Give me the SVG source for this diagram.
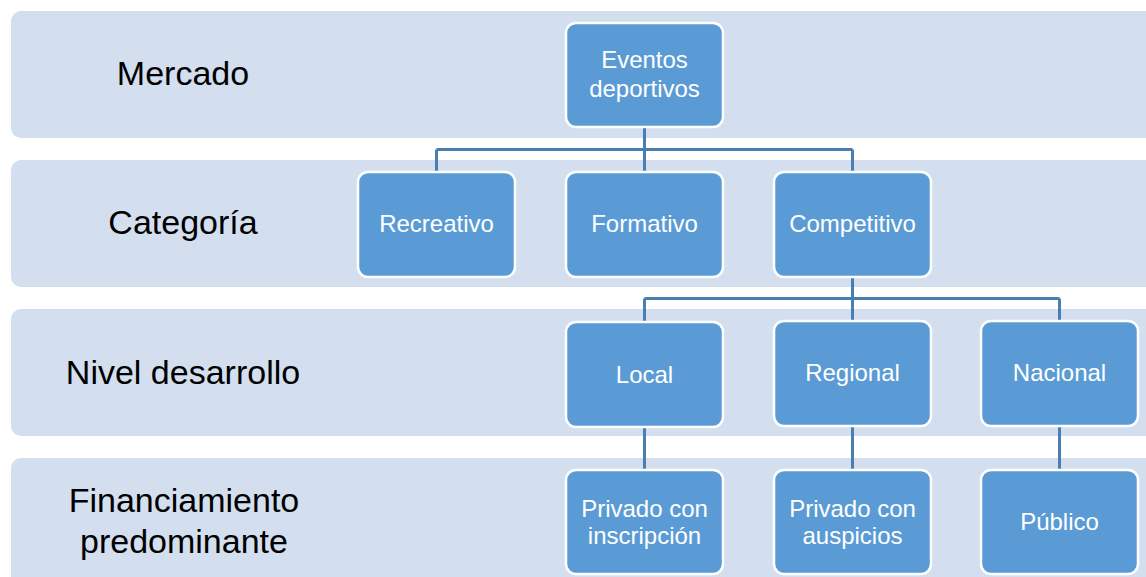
<svg xmlns="http://www.w3.org/2000/svg" width="1146" height="577" viewBox="0 0 1146 577">
  <style>
    .band { fill: #D3DEEF; }
    .level { font-family: "Liberation Sans", Arial, sans-serif; font-size: 34px; fill: #000; text-anchor: middle; }
    .box { fill: #5B9BD5; stroke: #FFFFFF; stroke-width: 2.5; }
    .lbl { font-family: "Liberation Sans", Arial, sans-serif; font-size: 24px; fill: #FFFFFF; text-anchor: middle; }
    .link { fill: none; stroke: #4A7EB0; stroke-width: 3; }
  </style>

  <rect width="1146" height="577" fill="#FFFFFF"/>

  <!-- horizontal level bands with their titles -->
  <g id="band-mercado">
    <rect class="band" x="11" y="11" width="1160" height="127" rx="10"/>
    <text class="level" x="183" y="85">Mercado</text>
  </g>
  <g id="band-categoria">
    <rect class="band" x="11" y="160" width="1160" height="127" rx="10"/>
    <text class="level" x="183" y="234">Categoría</text>
  </g>
  <g id="band-nivel">
    <rect class="band" x="11" y="309" width="1160" height="127" rx="10"/>
    <text class="level" x="183" y="384">Nivel desarrollo</text>
  </g>
  <g id="band-financiamiento">
    <rect class="band" x="11" y="458" width="1160" height="140" rx="10"/>
    <text class="level" x="184" y="512">Financiamiento</text>
    <text class="level" x="184" y="553">predominante</text>
  </g>

  <!-- tree connectors -->
  <g id="connectors">
    <path class="link" d="M644.5 128 V149.5 M436.5 149.5 H852.5 M436.5 149.5 V171 M644.5 149.5 V171 M852.5 149.5 V171"/>
    <path class="link" d="M852.5 278 V298.5 M644.5 298.5 H1059.5 M644.5 298.5 V321 M852.5 298.5 V320 M1059.5 298.5 V320"/>
    <path class="link" d="M644.5 428 V469 M852.5 427 V469 M1059.5 427 V469"/>
  </g>

  <!-- nodes -->
  <g id="node-eventos">
    <rect class="box" x="566" y="23" width="157" height="104" rx="10"/>
    <text class="lbl" x="644.5" y="68">Eventos</text>
    <text class="lbl" x="644.5" y="97">deportivos</text>
  </g>
  <g id="node-recreativo">
    <rect class="box" x="358" y="172" width="157" height="105" rx="10"/>
    <text class="lbl" x="436.5" y="232">Recreativo</text>
  </g>
  <g id="node-formativo">
    <rect class="box" x="566" y="172" width="157" height="105" rx="10"/>
    <text class="lbl" x="644.5" y="232">Formativo</text>
  </g>
  <g id="node-competitivo">
    <rect class="box" x="774" y="172" width="157" height="105" rx="10"/>
    <text class="lbl" x="852.5" y="232">Competitivo</text>
  </g>
  <g id="node-local">
    <rect class="box" x="566" y="322" width="157" height="105" rx="10"/>
    <text class="lbl" x="644.5" y="383">Local</text>
  </g>
  <g id="node-regional">
    <rect class="box" x="774" y="321" width="157" height="105" rx="10"/>
    <text class="lbl" x="852.5" y="381">Regional</text>
  </g>
  <g id="node-nacional">
    <rect class="box" x="981" y="321" width="157" height="105" rx="10"/>
    <text class="lbl" x="1059.5" y="381">Nacional</text>
  </g>
  <g id="node-inscripcion">
    <rect class="box" x="566" y="470" width="157" height="104" rx="10"/>
    <text class="lbl" x="644.5" y="517">Privado con</text>
    <text class="lbl" x="644.5" y="544">inscripción</text>
  </g>
  <g id="node-auspicios">
    <rect class="box" x="774" y="470" width="157" height="104" rx="10"/>
    <text class="lbl" x="852.5" y="517">Privado con</text>
    <text class="lbl" x="852.5" y="544">auspicios</text>
  </g>
  <g id="node-publico">
    <rect class="box" x="981" y="470" width="157" height="104" rx="10"/>
    <text class="lbl" x="1059.5" y="530">Público</text>
  </g>
</svg>
